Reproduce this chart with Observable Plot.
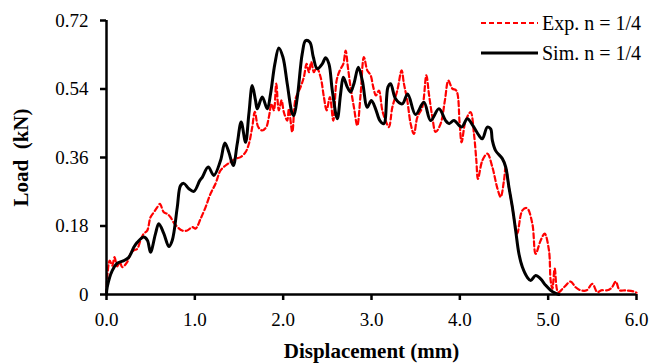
<!DOCTYPE html>
<html><head><meta charset="utf-8">
<script src="https://cdn.jsdelivr.net/npm/d3@7"></script>
<script src="https://cdn.jsdelivr.net/npm/@observablehq/plot@0.6"></script>
<style>
body{margin:0;background:#fff;}
#wrap{position:relative;width:662px;height:363px;font-family:"Liberation Serif","Times New Roman",serif;}
#legend{position:absolute;left:481px;top:8px;font-size:20px;color:#000;line-height:1;}
.row{display:flex;align-items:center;height:30px;white-space:nowrap;}
.row svg{width:57px;height:10px;margin-right:4px;}
[aria-label="x-axis label"] text,[aria-label="y-axis label"] text{font-weight:bold;font-size:21px;}
</style></head>
<body><div id="wrap"><div id="legend"></div></div>
<script>
// Series names and legend labels
const seriesNames = ["Exp. n = 1/4", "Sim. n = 1/4"];
const seriesColors = ["#ff0000", "#000000"];

// Experimental curve (dashed red)
const expX = [0,0.008,0.037,0.065,0.091,0.121,0.151,0.178,0.234,0.272,0.309,0.348,0.385,0.422,0.461,0.498,0.536,0.574,0.604,0.649,0.687,0.725,0.77,0.857,0.914,0.971,1.008,1.065,1.121,1.178,1.234,1.291,1.348,1.404,1.461,1.518,1.574,1.612,1.65,1.679,1.718,1.763,1.809,1.838,1.869,1.895,1.922,1.951,1.982,2.008,2.046,2.065,2.103,2.14,2.197,2.234,2.265,2.291,2.318,2.348,2.378,2.424,2.461,2.492,2.529,2.567,2.605,2.642,2.681,2.707,2.733,2.763,2.801,2.839,2.877,2.914,2.952,2.99,3.02,3.05,3.084,3.122,3.16,3.197,3.236,3.292,3.341,3.367,3.405,3.443,3.48,3.519,3.575,3.621,3.65,3.689,3.726,3.783,3.831,3.87,3.915,3.96,3.998,4.02,4.066,4.122,4.16,4.187,4.205,4.255,4.311,4.368,4.425,4.462,4.5,4.519,4.553,4.595,4.62,4.65,4.708,4.76,4.821,4.858,4.915,4.96,5.009,5.028,5.048,5.074,5.113,5.179,5.255,5.311,5.368,5.436,5.5,5.557,5.6,5.67,5.72,5.765,5.81,5.87,5.97,6.0];
const expY = [0,0.045,0.089,0.076,0.098,0.074,0.085,0.072,0.085,0.107,0.116,0.12,0.142,0.16,0.168,0.203,0.216,0.229,0.238,0.216,0.212,0.203,0.186,0.168,0.168,0.177,0.173,0.199,0.229,0.265,0.291,0.326,0.339,0.348,0.357,0.361,0.374,0.396,0.44,0.48,0.44,0.431,0.44,0.466,0.501,0.484,0.554,0.484,0.51,0.479,0.457,0.488,0.427,0.514,0.545,0.571,0.606,0.584,0.611,0.584,0.597,0.571,0.519,0.484,0.519,0.457,0.562,0.589,0.606,0.641,0.597,0.545,0.492,0.444,0.527,0.624,0.589,0.576,0.545,0.523,0.536,0.484,0.457,0.44,0.492,0.536,0.589,0.554,0.51,0.449,0.422,0.466,0.492,0.576,0.527,0.466,0.427,0.449,0.51,0.562,0.541,0.536,0.449,0.40,0.457,0.479,0.422,0.352,0.304,0.352,0.37,0.335,0.279,0.256,0.30,0.335,0.284,0.229,0.19,0.16,0.221,0.227,0.186,0.107,0.142,0.16,0.116,0.037,0.015,0.068,0.006,0.019,0.034,0.019,0.011,0.011,0.028,0.006,0.011,0.011,0.018,0.034,0.011,0.011,0.008,0.005];

// Simulated curve (solid black)
const simX = [0,0.008,0.065,0.121,0.196,0.253,0.309,0.348,0.422,0.464,0.498,0.555,0.592,0.649,0.706,0.744,0.801,0.838,0.875,0.932,0.989,1.057,1.084,1.152,1.215,1.291,1.34,1.385,1.435,1.48,1.525,1.574,1.612,1.65,1.687,1.707,1.763,1.82,1.857,1.906,1.951,1.997,2.046,2.103,2.121,2.16,2.216,2.254,2.302,2.341,2.386,2.443,2.48,2.518,2.556,2.613,2.65,2.681,2.726,2.763,2.801,2.851,2.896,2.952,2.998,3.046,3.095,3.14,3.186,3.216,3.273,3.349,3.409,3.499,3.593,3.669,3.763,3.839,3.877,3.933,4.02,4.085,4.148,4.216,4.255,4.311,4.349,4.368,4.405,4.481,4.519,4.556,4.595,4.632,4.669,4.708,4.764,4.802,4.858,4.915,4.972,5.028,5.085,5.122];
const simY = [0,0.019,0.063,0.082,0.089,0.098,0.124,0.137,0.151,0.142,0.111,0.16,0.186,0.16,0.126,0.142,0.229,0.286,0.292,0.278,0.271,0.30,0.308,0.335,0.313,0.352,0.398,0.374,0.339,0.396,0.453,0.40,0.475,0.549,0.51,0.488,0.519,0.488,0.527,0.606,0.648,0.624,0.554,0.475,0.47,0.518,0.633,0.667,0.663,0.624,0.593,0.606,0.622,0.606,0.536,0.462,0.527,0.571,0.545,0.532,0.554,0.597,0.562,0.492,0.51,0.488,0.457,0.449,0.545,0.554,0.514,0.501,0.527,0.473,0.505,0.457,0.488,0.457,0.449,0.457,0.44,0.462,0.444,0.418,0.409,0.44,0.435,0.405,0.378,0.357,0.335,0.282,0.229,0.168,0.107,0.072,0.045,0.037,0.05,0.041,0.024,0.011,0.003,0];

// Axis ticks
const xTicks = [0,1,2,3,4,5,6];
const yTicks = [0,0.18,0.36,0.54,0.72];

const expData = expX.map((x,i)=>({x, y: expY[i]}));
const simData = simX.map((x,i)=>({x, y: simY[i]}));

const chart = Plot.plot({
  width: 662, height: 363,
  marginLeft: 106, marginRight: 26, marginTop: 20, marginBottom: 69,
  style: {fontFamily: '"Liberation Serif","Times New Roman",serif', fontSize: "19px", color: "#000", background: "#fff"},
  x: {domain: [0, 6]},
  y: {domain: [0, 0.72]},
  marks: [
    Plot.axisX({ticks: xTicks, tickFormat: d => d.toFixed(1), tickSize: 6, tickPadding: 12, strokeWidth: 2.5,
      label: "Displacement (mm)", labelAnchor: "center", labelOffset: 63, labelArrow: "none"}),
    Plot.axisY({ticks: yTicks, tickFormat: d => d === 0 ? "0" : d.toFixed(2), tickSize: 6, tickPadding: 12, strokeWidth: 2.5,
      label: "Load  (kN)", labelAnchor: "center", labelOffset: 93, labelArrow: "none"}),
    Plot.line(expData, {x: "x", y: "y", stroke: seriesColors[0], strokeWidth: 2.2, strokeDasharray: "5,3", curve: "catmull-rom"}),
    Plot.line(simData, {x: "x", y: "y", stroke: seriesColors[1], strokeWidth: 3, curve: "catmull-rom"}),
    Plot.ruleY([0], {strokeWidth: 2.5}),
    Plot.ruleX([0], {strokeWidth: 2.5})
  ]
});
document.getElementById("wrap").prepend(chart);

const legend = document.getElementById("legend");
seriesNames.forEach((name, i) => {
  const row = document.createElement("div");
  row.className = "row";
  const dash = i === 0 ? 'stroke-dasharray="5,3"' : '';
  const sw = i === 0 ? 2.2 : 3;
  row.innerHTML = `<svg viewBox="0 0 57 10"><line x1="0" y1="5" x2="57" y2="5" stroke="${seriesColors[i]}" stroke-width="${sw}" ${dash}/></svg><span>${name}</span>`;
  legend.appendChild(row);
});
</script>
</body></html>
